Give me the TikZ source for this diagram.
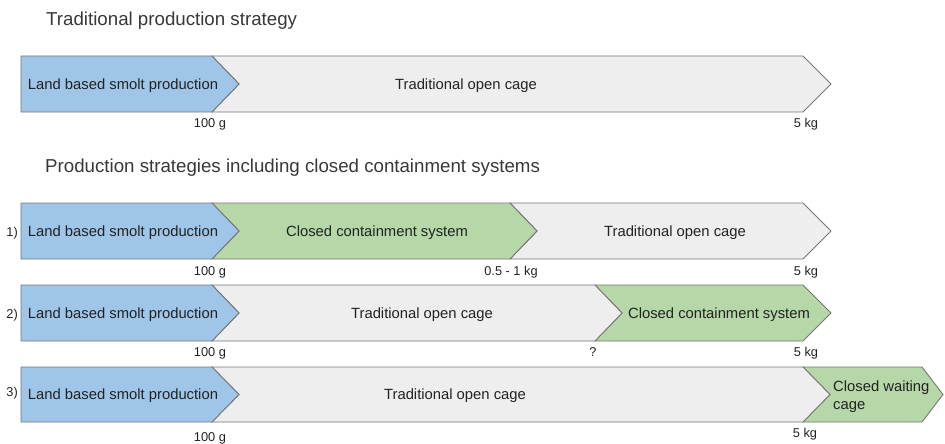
\documentclass[tikz,border=0pt]{standalone}
\usepackage{fontspec}
\setmainfont{Liberation Sans}
\definecolor{smolt}{HTML}{9FC5E8}
\definecolor{closed}{HTML}{B6D7A8}
\definecolor{opencage}{HTML}{EEEEEE}
\definecolor{edge}{HTML}{767676}
\definecolor{ink}{HTML}{222222}
\tikzset{
  seg/.style={draw=edge, line width=0.9pt, line join=miter},
  boxtext/.style={font=\fontsize{14.8}{18}\selectfont, text=ink, inner sep=0, anchor=base},
  weight/.style={font=\fontsize{12.8}{15}\selectfont, text=ink, inner sep=0, anchor=base},
  heading/.style={font=\fontsize{18.7}{22}\selectfont, text=ink!90, inner sep=0, anchor=base west},
  rowno/.style={font=\fontsize{12.8}{15}\selectfont, text=ink, inner sep=0, anchor=base east},
}
% first chevron of a row: fill, right x, top y, bottom y
\newcommand\leadchev[4]{%
  \draw[seg, fill=#1] (21,#3) -- (#2,#3) -- ({#2+27},{(#3+#4)/2}) -- (#2,#4) -- (21,#4) -- cycle;}
% following chevron with notch: fill, left x, right x, top y, bottom y, point depth
\newcommand\nextchev[6]{%
  \draw[seg, fill=#1] (#2,#4) -- (#3,#4) -- ({#3+#6},{(#4+#5)/2}) -- (#3,#5) -- (#2,#5)
    -- ({#2+27},{(#4+#5)/2}) -- cycle;}
\begin{document}
\begin{tikzpicture}[x=1pt, y=-1pt]
  \useasboundingbox (0,0) rectangle (945,444);

  % traditional strategy
  \node[heading] (t1) at (46,25.7) {Traditional production strategy};
  \nextchev{opencage}{212}{803}{56}{112}{28}
  \leadchev{smolt}{212}{56}{112}
  \node[boxtext] (a1) at (123,89.3) {Land based smolt production};
  \node[boxtext] (a2) at (466,89.3) {Traditional open cage};
  \node[weight] (aw1) at (210,127.5) {100 g};
  \node[weight] (aw2) at (806,127.5) {5 kg};

  % strategies with closed containment
  \node[heading] (t2) at (45,172.7) {Production strategies including closed containment systems};

  % 1)
  \node[rowno] (r1) at (18,236.7) {1)};
  \nextchev{opencage}{510}{803}{203}{259}{28}
  \nextchev{closed}{212}{510}{203}{259}{27}
  \leadchev{smolt}{212}{203}{259}
  \node[boxtext] (b1) at (123,236.5) {Land based smolt production};
  \node[boxtext] (b2) at (377,236.5) {Closed containment system};
  \node[boxtext] (b3) at (675,236.5) {Traditional open cage};
  \node[weight] (bw1) at (210,275) {100 g};
  \node[weight] (bw2) at (511,275) {0.5 - 1 kg};
  \node[weight] (bw3) at (806,275) {5 kg};

  % 2)
  \node[rowno] (r2) at (18,318) {2)};
  \nextchev{closed}{595}{803}{285}{341}{28}
  \nextchev{opencage}{212}{595}{285}{341}{27}
  \leadchev{smolt}{212}{285}{341}
  \node[boxtext] (c1) at (123,318.3) {Land based smolt production};
  \node[boxtext] (c2) at (422,318.3) {Traditional open cage};
  \node[boxtext] (c3) at (719,318.3) {Closed containment system};
  \node[weight] (cw1) at (210,356.7) {100 g};
  \node[weight] (cw2) at (593,356.7) {?};
  \node[weight] (cw3) at (806,356.7) {5 kg};

  % 3)
  \node[rowno] (r3) at (18,396) {3)};
  \nextchev{closed}{803}{922}{367}{422}{21}
  \nextchev{opencage}{212}{803}{367}{422}{27}
  \leadchev{smolt}{212}{367}{422}
  \node[boxtext] (d1) at (123,399.8) {Land based smolt production};
  \node[boxtext] (d2) at (455,399.8) {Traditional open cage};
  \node[boxtext, anchor=base west] (d3) at (833,391.7) {Closed waiting};
  \node[boxtext, anchor=base west] (d4) at (833,409.7) {cage};
  \node[weight] (dw1) at (210,441.5) {100 g};
  \node[weight] (dw2) at (805,437.5) {5 kg};
\end{tikzpicture}
\end{document}
